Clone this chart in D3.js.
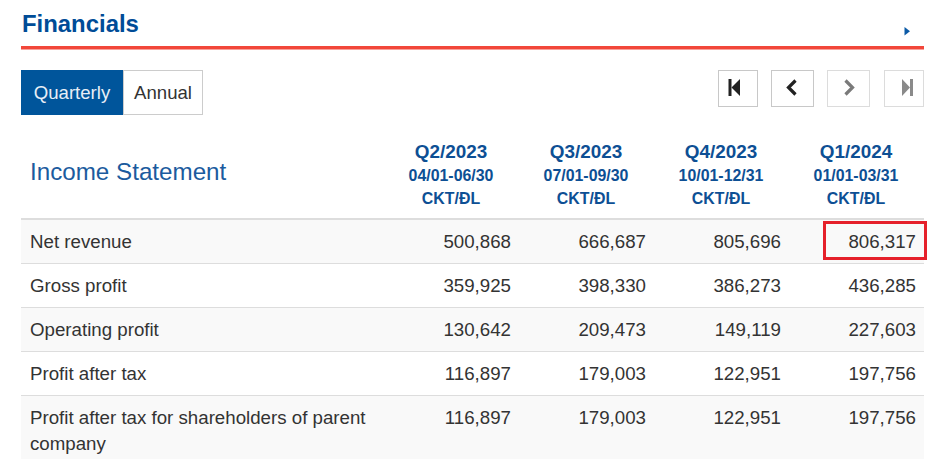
<!DOCTYPE html>
<html>
<head>
<meta charset="utf-8">
<script src="https://cdn.jsdelivr.net/npm/d3@7"></script>
<style>
  html, body { margin: 0; padding: 0; background: #fff; }
  svg { display: block; font-family: "Liberation Sans", Arial, sans-serif; }
</style>
</head>
<body>
<svg id="chart" width="928" height="459"></svg>
<script>
// ---- data ----
const quarters = ["Q2/2023", "Q3/2023", "Q4/2023", "Q1/2024"];
const periods = ["04/01-06/30", "07/01-09/30", "10/01-12/31", "01/01-03/31"];
const auditStatus = ["CKT/ĐL", "CKT/ĐL", "CKT/ĐL", "CKT/ĐL"];
const rowLabels = [
  "Net revenue",
  "Gross profit",
  "Operating profit",
  "Profit after tax",
  "Profit after tax for shareholders of parent company"
];
const netRevenue = [500868, 666687, 805696, 806317];
const grossProfit = [359925, 398330, 386273, 436285];
const operatingProfit = [130642, 209473, 149119, 227603];
const profitAfterTax = [116897, 179003, 122951, 197756];
const profitParent = [116897, 179003, 122951, 197756];
const tabLabels = ["Quarterly", "Annual"];
const highlighted = { row: 0, col: 3 };

const seriesRows = [netRevenue, grossProfit, operatingProfit, profitAfterTax, profitParent];

// ---- drawing ----
const svg = d3.select("#chart");
const left = 21, right = 924;
const blue = "#004c97";
const fmt = d3.format(",");

// Title
svg.append("text").attr("x", 22).attr("y", 32)
  .attr("font-size", 23.9).attr("font-weight", "bold").attr("fill", blue)
  .text("Financials");
// small triangle
svg.append("path").attr("d", "M904.5,27L910,31.3L904.5,35.6Z").attr("fill", "#0b5aa6");
// red rule
svg.append("rect").attr("x", left).attr("y", 46).attr("width", right - left).attr("height", 3.5)
  .attr("fill", "#f2473a");

// Tabs
const tabX = d3.scaleOrdinal().domain(tabLabels).range([21, 123]);
const tabW = d3.scaleOrdinal().domain(tabLabels).range([102, 80]);
tabLabels.forEach((t, i) => {
  const g = svg.append("g");
  g.append("rect").attr("x", tabX(t) + 0.5).attr("y", 70.5)
    .attr("width", tabW(t) - 1).attr("height", 44)
    .attr("fill", i === 0 ? "#00559b" : "#fff")
    .attr("stroke", i === 0 ? "#00559b" : "#ccc");
  g.append("text").attr("x", tabX(t) + tabW(t) / 2).attr("y", 99)
    .attr("text-anchor", "middle").attr("font-size", 18.6)
    .attr("fill", i === 0 ? "#e8eef6" : "#333").text(t);
});

// Nav buttons
const navBtns = [
  { x: 718, w: 40, stroke: "#c8c8c8", color: "#222", kind: "first" },
  { x: 771, w: 43, stroke: "#c8c8c8", color: "#222", kind: "prev" },
  { x: 827, w: 43, stroke: "#dcdcdc", color: "#7a7a7a", kind: "next" },
  { x: 884, w: 40, stroke: "#dcdcdc", color: "#8a8a8a", kind: "last" }
];
navBtns.forEach(b => {
  const g = svg.append("g");
  g.append("rect").attr("x", b.x + 0.5).attr("y", 70.5).attr("width", b.w - 1).attr("height", 36)
    .attr("fill", "#fff").attr("stroke", b.stroke);
  const cx = b.x + b.w / 2, cy = 87.5;
  if (b.kind === "first") {
    g.append("rect").attr("x", cx - 9.5).attr("y", cy - 8.5).attr("width", 3).attr("height", 17).attr("fill", b.color);
    g.append("path").attr("d", `M${cx - 6.5},${cy}L${cx + 2},${cy - 8.5}L${cx + 2},${cy + 8.5}Z`).attr("fill", b.color);
  } else if (b.kind === "last") {
    g.append("path").attr("d", `M${cx - 2},${cy - 8.5}L${cx + 6},${cy}L${cx - 2},${cy + 8.5}Z`).attr("fill", b.color);
    g.append("rect").attr("x", cx + 6).attr("y", cy - 8.5).attr("width", 3).attr("height", 17).attr("fill", b.color);
  } else if (b.kind === "prev") {
    g.append("path").attr("d", `M${cx + 3},${cy - 7}L${cx - 4},${cy}L${cx + 3},${cy + 7}`)
      .attr("fill", "none").attr("stroke", b.color).attr("stroke-width", 3.2);
  } else {
    g.append("path").attr("d", `M${cx - 3},${cy - 7}L${cx + 4},${cy}L${cx - 3},${cy + 7}`)
      .attr("fill", "none").attr("stroke", b.color).attr("stroke-width", 3.2);
  }
});

// Table header
const x = d3.scaleBand().domain(quarters).range([384, right]);
const pad = 8;
svg.append("text").attr("x", 30).attr("y", 180).attr("font-size", 24.2)
  .attr("fill", "#1b5b9e").text("Income Statement");
const hdr = svg.append("g").attr("fill", "#0d4f94").attr("font-weight", "bold").attr("text-anchor", "middle");
quarters.forEach((q, i) => {
  const cx = x(q) + x.bandwidth() / 2 - 0.5;
  hdr.append("text").attr("x", cx).attr("y", 158).attr("font-size", 18.9).text(q);
  hdr.append("text").attr("x", cx).attr("y", 181).attr("font-size", 15.9).text(periods[i]);
  hdr.append("text").attr("x", cx).attr("y", 204).attr("font-size", 15.9).text(auditStatus[i]);
});
svg.append("rect").attr("x", left).attr("y", 218).attr("width", right - left).attr("height", 2).attr("fill", "#ddd");

// Body rows
const fontSize = 18.7, lineH = 26, vpad = 18;
const measure = svg.append("text").attr("font-size", fontSize).attr("visibility", "hidden");
function wrap(str, maxW) {
  const words = str.split(" ");
  const lines = [];
  let cur = "";
  words.forEach(w => {
    const test = cur ? cur + " " + w : w;
    measure.text(test);
    if (measure.node().getComputedTextLength() > maxW && cur) {
      lines.push(cur); cur = w;
    } else cur = test;
  });
  if (cur) lines.push(cur);
  return lines;
}
let y0 = 220;
const rowsLayout = rowLabels.map((lab, i) => {
  const lines = wrap(lab, 348);
  const h = vpad + lineH * lines.length;
  const r = { lab, lines, y: y0, h, vals: seriesRows[i], i };
  y0 += h;
  return r;
});
measure.remove();

const body = svg.append("g");
rowsLayout.forEach(r => {
  const g = body.append("g");
  g.append("rect").attr("x", left).attr("y", r.y).attr("width", right - left).attr("height", r.h)
    .attr("fill", r.i % 2 === 0 ? "#f9f9f9" : "#fff");
  if (r.i > 0) {
    g.append("rect").attr("x", left).attr("y", r.y - 1).attr("width", right - left).attr("height", 1).attr("fill", "#ddd");
  }
  const base = r.y + 28;
  r.lines.forEach((ln, k) => {
    g.append("text").attr("x", 30).attr("y", base + k * lineH).attr("font-size", fontSize)
      .attr("fill", "#333").text(ln);
  });
  quarters.forEach((q, j) => {
    g.append("text").attr("x", x(q) + x.bandwidth() - pad).attr("y", base)
      .attr("text-anchor", "end").attr("font-size", fontSize).attr("fill", "#333")
      .text(fmt(r.vals[j]));
  });
});

// highlight box
const hr = rowsLayout[highlighted.row];
const hq = quarters[highlighted.col];
svg.append("rect")
  .attr("x", x(hq) + 35.5).attr("y", hr.y + 2.5)
  .attr("width", x.bandwidth() - 34).attr("height", hr.h - 8)
  .attr("fill", "none").attr("stroke", "#e5202a").attr("stroke-width", 3);
</script>
</body>
</html>
